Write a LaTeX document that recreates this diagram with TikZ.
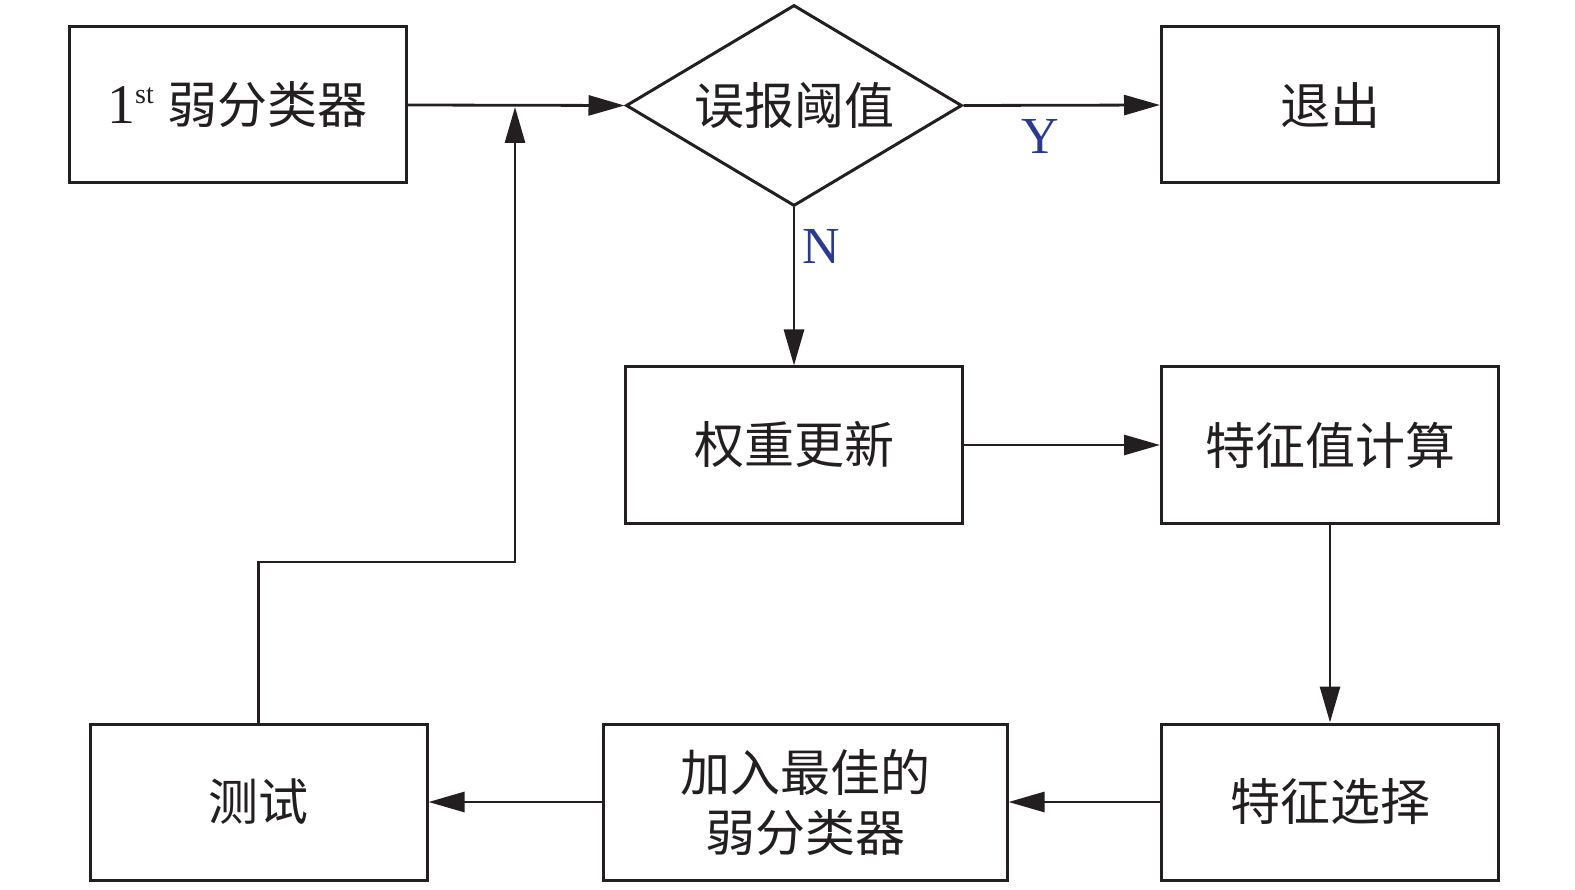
\documentclass[tikz,border=0pt]{standalone}
\usepackage{fontspec}
\setmainfont{Liberation Serif}
\newfontfamily\cjk{Noto Sans CJK SC}
\usetikzlibrary{shapes.geometric,arrows.meta}
\definecolor{ink}{RGB}{35,31,32}
\definecolor{lblue}{RGB}{43,57,144}
\tikzset{
  box/.style={draw=ink,line width=3pt,rectangle,minimum width=337pt,minimum height=156pt,inner sep=0pt,align=center,text=ink,font=\cjk\fontsize{50}{60}\selectfont},
  dia/.style={draw=ink,line width=3pt,diamond,shape aspect=1.67,minimum width=336pt,minimum height=201pt,inner sep=0pt,text=ink,font=\cjk\fontsize{50}{60}\selectfont},
  arr/.style={draw=ink,line width=2.8pt,-{Triangle[length=36pt,width=20pt]}},
  lab/.style={text=lblue,font=\fontsize{52}{60}\selectfont,inner sep=0pt}
}
\begin{document}
\begin{tikzpicture}[x=1pt,y=-1pt]
\useasboundingbox (0,0) rectangle (1575,890);
\node[box] (c1) at (237.5,105) {{\fontsize{56}{60}\selectfont\rmfamily 1\raisebox{0.36em}{\fontsize{28}{30}\selectfont st}}\hspace{14pt}弱分类器};
\node[dia] (th) at (794,105.5) {误报阈值};
\node[box] (ex) at (1330,105) {退出};
\node[box] (wu) at (794,445) {权重更新};
\node[box] (fc) at (1330,445) {特征值计算};
\node[box] (fs) at (1330,802) {特征选择};
\node[box,minimum width=404pt] (ab) at (805,802) {加入最佳的\\弱分类器};
\node[box] (ts) at (258.5,802) {测试};
\coordinate (lp) at (515,562);
\coordinate (lt) at (515,107);
\draw[arr] (c1.east) -- (th.west);
\draw[arr] (th.east) -- (ex.west);
\draw[arr] (th.south) -- (wu.north);
\draw[arr] (wu.east) -- (fc.west);
\draw[arr] (fc.south) -- (fs.north);
\draw[arr] (fs.west) -- (ab.east);
\draw[arr] (ab.west) -- (ts.east);
\draw[arr] (ts.north) |- (lp) -- (lt);
\node[lab] (y) at (1040,136) {Y};
\node[lab] (n) at (821,246) {N};
\end{tikzpicture}
\end{document}
